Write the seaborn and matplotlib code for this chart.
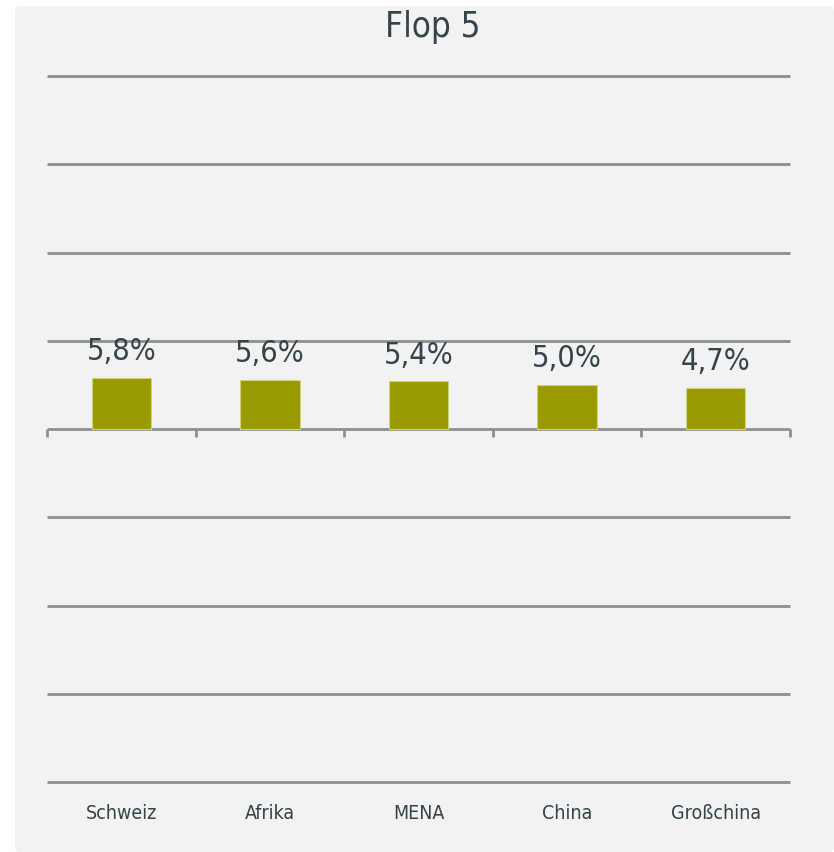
import numpy as np
import pandas as pd
import matplotlib
matplotlib.use("Agg")
import matplotlib.pyplot as plt
from matplotlib.patches import FancyBboxPatch
import seaborn as sns

# =====================================
# Data
# =====================================
regions = ["Schweiz", "Afrika", "MENA", "China", "Großchina"]
values = [5.8, 5.6, 5.4, 5.0, 4.7]
value_labels = ["5,8%", "5,6%", "5,4%", "5,0%", "4,7%"]

df = pd.DataFrame({"region": regions, "value": values})

# =====================================
# Style
# =====================================
sns.set_style("white")
plt.rcParams['font.family'] = ['DejaVu Sans']
plt.rcParams['font.stretch'] = 'condensed'

BG = "#f2f2f2"
BAR = "#999900"
TEXT = "#36434a"
GRID = "#8e9090"

W, H = 834, 853
fig = plt.figure(figsize=(W / 100, H / 100), dpi=100, facecolor="white")

# gray panel behind the chart
panel = FancyBboxPatch((15 / W, 0), 1 - 15 / W, 1 - 7 / H,
                       boxstyle="round,pad=0,rounding_size=0.006",
                       transform=fig.transFigure, facecolor=BG,
                       edgecolor="none", zorder=-5)
fig.patches.append(panel)

ax = fig.add_axes([47 / W, 70 / H, (790 - 47) / W, (783 - 77) / H])
ax.set_facecolor("none")
ax.set_zorder(1)

sns.barplot(data=df, x="region", y="value", color=BAR, width=0.4,
            edgecolor="#d2d27a", linewidth=0.8, saturation=1, ax=ax, zorder=3)

ax.set_ylim(-40, 40)
ax.set_xlim(-0.5, len(regions) - 0.5)
ax.set_yticks(np.arange(-40, 41, 10))
ax.yaxis.grid(True, color=GRID, linewidth=2)
for gl in ax.get_ygridlines():
    gl.set_clip_on(False)
    gl.set_solid_capstyle("butt")
ax.set_axisbelow(True)
ax.set_yticklabels([])
ax.tick_params(axis="y", length=0)
ax.tick_params(axis="x", length=0, pad=15, labelsize=14, labelcolor=TEXT)
for s in ax.spines.values():
    s.set_visible(False)
ax.set_xlabel("")
ax.set_ylabel("")

# tick marks on the zero line between categories
ax.vlines(np.arange(-0.5, len(regions), 1), -0.9, 0, color=GRID, linewidth=2,
          zorder=2, clip_on=False)

# value labels
for i, (v, lab) in enumerate(zip(values, value_labels)):
    ax.annotate(lab, (i, v), xytext=(0, 9), textcoords="offset points",
                ha="center", va="bottom", fontsize=22, color=TEXT)

fig.text(433 / W, 1 - 27 / H, "Flop 5", ha="center", va="center",
         fontsize=25, color=TEXT)

plt.savefig("out.png", dpi=100, facecolor=fig.get_facecolor())
